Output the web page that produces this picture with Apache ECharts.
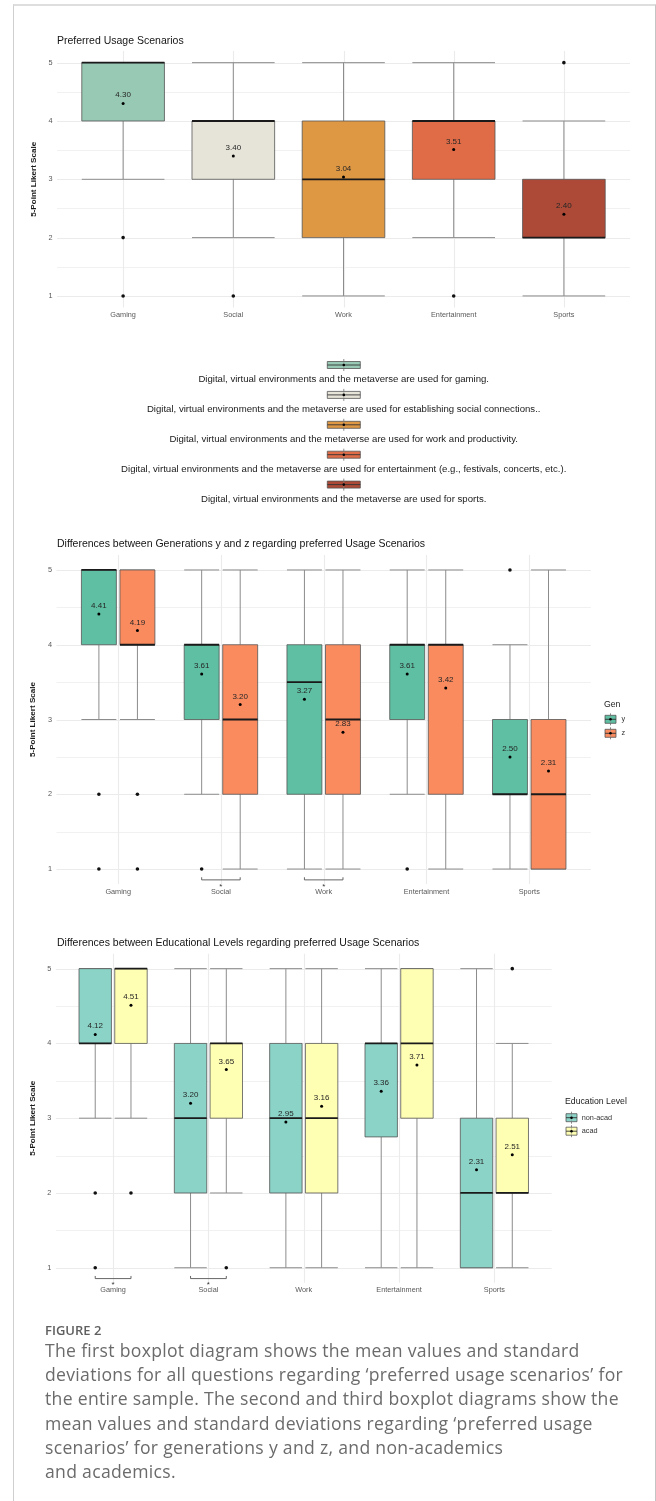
<!DOCTYPE html>
<html>
<head>
<meta charset="utf-8">
<script src="https://cdn.jsdelivr.net/npm/echarts@6/dist/echarts.min.js"></script>
<style>
  html, body { margin: 0; padding: 0; background: #fff; }
  #page { position: relative; width: 656px; height: 1501px; overflow: hidden; }
  #chart { position: absolute; left: 0; top: 0; width: 656px; height: 1310px; }
  #card { position: absolute; left: 13px; top: 4px; width: 641px; height: 1510px;
          border-left: 1px solid #cfcfcf; border-top: 2px solid #dedede; border-right: 1px solid #c4c4c4;
          pointer-events: none; }
  #caption { position: absolute; left: 45px; top: 1322px; font-family: "Open Sans", Lato, sans-serif; color: #6b6b6b; }
  #caption .fig { font-size: 13px; font-weight: 600; color: #5f5f5f; line-height: 16px; }
  #caption .txt { font-size: 17.6px; line-height: 24.2px; white-space: nowrap; letter-spacing: 0.3px; }
</style>
</head>
<body>
<div id="page">
  <div id="chart"></div>
  <div id="card"></div>
  <div id="caption">
    <div class="fig">FIGURE 2</div>
    <div class="txt">The first boxplot diagram shows the mean values and standard<br>deviations for all questions regarding ‘preferred usage scenarios’ for<br>the entire sample. The second and third boxplot diagrams show the<br>mean values and standard deviations regarding ‘preferred usage<br>scenarios’ for generations y and z, and non-academics<br>and academics.</div>
  </div>
</div>
<script>
// ---------- data ----------
const categories = ['Gaming', 'Social', 'Work', 'Entertainment', 'Sports'];
const yTicks = [1, 2, 3, 4, 5];
const yMinorTicks = [1.5, 2.5, 3.5, 4.5];

const chartTitles = [
  'Preferred Usage Scenarios',
  'Differences between Generations y and z regarding preferred Usage Scenarios',
  'Differences between Educational Levels regarding preferred Usage Scenarios'
];
const yAxisTitle = '5-Point Likert Scale';

// each box: [lower whisker, Q1, median, Q3, upper whisker]
const allStats = [[3, 4, 5, 5, 5], [2, 3, 4, 4, 5], [1, 2, 3, 4, 5], [2, 3, 4, 4, 5], [1, 2, 2, 3, 4]];
const allMeans = [4.30, 3.40, 3.04, 3.51, 2.40];
const allOutliers = [[2, 1], [1], [], [1], [5]];
const allColors = ['#97C9B4', '#E6E4D8', '#DE9742', '#E06C47', '#AC4A37'];
const scenarioLabels = [
  'Digital, virtual environments and the metaverse are used for gaming.',
  'Digital, virtual environments and the metaverse are used for establishing social connections..',
  'Digital, virtual environments and the metaverse are used for work and productivity.',
  'Digital, virtual environments and the metaverse are used for entertainment (e.g., festivals, concerts, etc.).',
  'Digital, virtual environments and the metaverse are used for sports.'
];

const genTitle = 'Gen';
const genGroups = ['y', 'z'];
const genYStats = [[3, 4, 5, 5, 5], [2, 3, 4, 4, 5], [1, 2, 3.5, 4, 5], [2, 3, 4, 4, 5], [1, 2, 2, 3, 4]];
const genZStats = [[3, 4, 4, 5, 5], [1, 2, 3, 4, 5], [1, 2, 3, 4, 5], [1, 2, 4, 4, 5], [1, 1, 2, 3, 5]];
const genYMeans = [4.41, 3.61, 3.27, 3.61, 2.50];
const genZMeans = [4.19, 3.20, 2.83, 3.42, 2.31];
const genYOutliers = [[2, 1], [1], [], [1], [5]];
const genZOutliers = [[2, 1], [], [], [], []];
const genSignificant = ['Social', 'Work'];
const genColors = ['#5EBFA2', '#FA8B5F'];

const eduTitle = 'Education Level';
const eduGroups = ['non-acad', 'acad'];
const nonAcadStats = [[3, 4, 4, 5, 5], [1, 2, 3, 4, 5], [1, 2, 3, 4, 5], [1, 2.75, 4, 4, 5], [1, 1, 2, 3, 5]];
const acadStats = [[3, 4, 5, 5, 5], [2, 3, 4, 4, 5], [1, 2, 3, 4, 5], [1, 3, 4, 5, 5], [1, 2, 2, 3, 4]];
const nonAcadMeans = [4.12, 3.20, 2.95, 3.36, 2.31];
const acadMeans = [4.51, 3.65, 3.16, 3.71, 2.51];
const nonAcadOutliers = [[2, 1], [], [], [], []];
const acadOutliers = [[2], [1], [], [], [5]];
const eduSignificant = ['Gaming', 'Social'];
const eduColors = ['#8AD3C6', '#FFFFB3'];

// ---------- styling ----------
const FONT = '"Liberation Sans", Arial, Helvetica, sans-serif';
const GRID_COLOR = '#ebebeb';
const WHISKER = '#8c8c8c';
const BOX_EDGE = '#555555';
const DODGE = 0.1875;

const grids = [
  { left: 57, top: 51, width: 573, height: 256.6 },
  { left: 56.5, top: 555, width: 534.4, height: 329 },
  { left: 55.9, top: 953.7, width: 495.7, height: 329 }
];

function txt(text, x, y, size, color, align, extra) {
  return Object.assign({
    type: 'text', x: x, y: y, silent: true,
    style: Object.assign({
      text: text, fontSize: size, fontFamily: FONT, fill: color,
      align: align || 'left', textAlign: align || 'left',
      verticalAlign: 'middle', textVerticalAlign: 'middle'
    }, extra || {})
  });
}

function gridSeries(gi) {
  return [{
    type: 'custom', xAxisIndex: gi, yAxisIndex: gi, z: 0, silent: true,
    dimensions: ['level'], encode: { y: 0 },
    data: yTicks.concat(yMinorTicks).map(v => [v]),
    renderItem: (params, api) => {
      const cs = params.coordSys;
      const v = api.value(0);
      const y = Math.round(api.coord([1, v])[1]) + 0.5;
      return { type: 'line', shape: { x1: cs.x, y1: y, x2: cs.x + cs.width, y2: y },
               style: { stroke: GRID_COLOR, lineWidth: Number.isInteger(v) ? 1.1 : 0.7 } };
    }
  }, {
    type: 'custom', xAxisIndex: gi, yAxisIndex: gi, z: 0, silent: true,
    dimensions: ['pos'], encode: { x: 0 },
    data: categories.map((c, i) => [i + 1]),
    renderItem: (params, api) => {
      const cs = params.coordSys;
      const x = Math.round(api.coord([api.value(0), 3])[0]) + 0.5;
      return { type: 'line', shape: { x1: x, y1: cs.y, x2: x, y2: cs.y + cs.height },
               style: { stroke: GRID_COLOR, lineWidth: 1.1 } };
    }
  }];
}

function boxSeries(gi, name, stats, colorOf, off, wf) {
  return {
    type: 'custom', name: name, xAxisIndex: gi, yAxisIndex: gi, z: 2, silent: true,
    dimensions: ['pos', 'low', 'q1', 'median', 'q3', 'high'],
    encode: { x: 0, y: [1, 2, 3, 4, 5] },
    data: stats.map((s, i) => [i + 1].concat(s)),
    renderItem: (params, api) => {
      const x = api.value(0);
      const unit = api.size([1, 0])[0];
      const cx = api.coord([x, 3])[0] + off * unit;
      const hw = wf * unit / 2;
      const yy = k => api.coord([x, api.value(k)])[1];
      const yLow = yy(1), yQ1 = yy(2), yMed = yy(3), yQ3 = yy(4), yHigh = yy(5);
      const ws = { stroke: WHISKER, lineWidth: 1 };
      return {
        type: 'group',
        children: [
          { type: 'line', shape: { x1: cx, y1: yQ3, x2: cx, y2: yHigh }, style: ws },
          { type: 'line', shape: { x1: cx, y1: yQ1, x2: cx, y2: yLow }, style: ws },
          { type: 'line', shape: { x1: cx - hw, y1: yHigh, x2: cx + hw, y2: yHigh }, style: ws },
          { type: 'line', shape: { x1: cx - hw, y1: yLow, x2: cx + hw, y2: yLow }, style: ws },
          { type: 'rect', shape: { x: cx - hw, y: yQ3, width: 2 * hw, height: yQ1 - yQ3 },
            style: { fill: colorOf(params.dataIndex), stroke: BOX_EDGE, lineWidth: 0.8 } },
          { type: 'line', shape: { x1: cx - hw, y1: yMed, x2: cx + hw, y2: yMed },
            style: { stroke: '#1a1a1a', lineWidth: 1.8 } }
        ]
      };
    }
  };
}

function outlierSeries(gi, outliers, off) {
  const data = [];
  outliers.forEach((arr, i) => arr.forEach(v => data.push([i + 1, v])));
  return {
    type: 'custom', xAxisIndex: gi, yAxisIndex: gi, z: 3, silent: true,
    dimensions: ['pos', 'value'], encode: { x: 0, y: 1 },
    data: data,
    renderItem: (params, api) => {
      const unit = api.size([1, 0])[0];
      const p = api.coord([api.value(0), api.value(1)]);
      return { type: 'circle', shape: { cx: p[0] + off * unit, cy: p[1], r: 1.8 }, style: { fill: '#111' } };
    }
  };
}

function meanSeries(gi, means, off) {
  return {
    type: 'custom', xAxisIndex: gi, yAxisIndex: gi, z: 4, silent: true,
    dimensions: ['pos', 'mean'], encode: { x: 0, y: 1 },
    data: means.map((m, i) => [i + 1, m]),
    renderItem: (params, api) => {
      const unit = api.size([1, 0])[0];
      const m = api.value(1);
      const p = api.coord([api.value(0), m]);
      const cx = p[0] + off * unit;
      return {
        type: 'group',
        children: [
          { type: 'circle', shape: { cx: cx, cy: p[1], r: 1.5 }, style: { fill: '#000' } },
          { type: 'text', x: cx, y: p[1] - 8.2,
            style: { text: m.toFixed(2), fontSize: 8, fontFamily: FONT, fill: '#262626',
                     align: 'center', textAlign: 'center', verticalAlign: 'middle', textVerticalAlign: 'middle' } }
        ]
      };
    }
  };
}

function bracketSeries(gi, significant) {
  return {
    type: 'custom', xAxisIndex: gi, yAxisIndex: gi, z: 3, silent: true,
    dimensions: ['pos'], encode: { x: 0 },
    data: significant.map(c => [categories.indexOf(c) + 1]),
    renderItem: (params, api) => {
      const x = api.value(0);
      const unit = api.size([1, 0])[0];
      const cx = api.coord([x, 3])[0];
      const xl = cx - DODGE * unit, xr = cx + DODGE * unit;
      const yb = api.coord([x, 0.855])[1];
      const yt = api.coord([x, 0.89])[1];
      return {
        type: 'group',
        children: [
          { type: 'polyline', shape: { points: [[xl, yt], [xl, yb], [xr, yb], [xr, yt]] },
            style: { stroke: '#555', lineWidth: 0.9, fill: null } },
          { type: 'text', x: cx, y: yb + 6.5,
            style: { text: '*', fontSize: 8, fontFamily: FONT, fill: '#333',
                     align: 'center', textAlign: 'center', verticalAlign: 'middle', textVerticalAlign: 'middle' } }
        ]
      };
    }
  };
}

function xAxisFor(gi) {
  return {
    gridIndex: gi, type: 'value', min: 0.4, max: 5.6,
    axisLine: { show: false }, axisTick: { show: false }, splitLine: { show: false },
    axisLabel: {
      customValues: yTicks, margin: 4, fontSize: 7.3, fontFamily: FONT, color: '#595959',
      formatter: v => categories[Math.round(v) - 1] || ''
    }
  };
}
function yAxisFor(gi) {
  return {
    gridIndex: gi, type: 'value', min: 0.8, max: 5.2,
    axisLine: { show: false }, axisTick: { show: false }, splitLine: { show: false },
    axisLabel: { customValues: yTicks, margin: 4.5, fontSize: 7.3, fontFamily: FONT, color: '#595959',
                 formatter: v => String(v) },
    name: yAxisTitle, nameLocation: 'middle', nameGap: 10.5,
    nameTextStyle: { fontSize: 8.1, fontWeight: 'bold', fontFamily: FONT, color: '#1a1a1a' }
  };
}

// ---------- series ----------
const series = [];
for (let g = 0; g < 3; g++) series.push(...gridSeries(g));

series.push(boxSeries(0, 'all', allStats, i => allColors[i], 0, 0.75));
series.push(outlierSeries(0, allOutliers, 0));
series.push(meanSeries(0, allMeans, 0));

series.push(boxSeries(1, genGroups[0], genYStats, () => genColors[0], -DODGE, 0.34));
series.push(boxSeries(1, genGroups[1], genZStats, () => genColors[1], DODGE, 0.34));
series.push(outlierSeries(1, genYOutliers, -DODGE));
series.push(outlierSeries(1, genZOutliers, DODGE));
series.push(meanSeries(1, genYMeans, -DODGE));
series.push(meanSeries(1, genZMeans, DODGE));
series.push(bracketSeries(1, genSignificant));

series.push(boxSeries(2, eduGroups[0], nonAcadStats, () => eduColors[0], -DODGE, 0.34));
series.push(boxSeries(2, eduGroups[1], acadStats, () => eduColors[1], DODGE, 0.34));
series.push(outlierSeries(2, nonAcadOutliers, -DODGE));
series.push(outlierSeries(2, acadOutliers, DODGE));
series.push(meanSeries(2, nonAcadMeans, -DODGE));
series.push(meanSeries(2, acadMeans, DODGE));
series.push(bracketSeries(2, eduSignificant));

// ---------- legends (boxplot key glyphs) ----------
function keyGlyph(x, cy, w, h, color, ext) {
  return [
    { type: 'line', silent: true, shape: { x1: x + w / 2, y1: cy - h / 2 - ext, x2: x + w / 2, y2: cy + h / 2 + ext },
      style: { stroke: WHISKER, lineWidth: 1 } },
    { type: 'rect', silent: true, shape: { x: x, y: cy - h / 2, width: w, height: h },
      style: { fill: color, stroke: BOX_EDGE, lineWidth: 0.8 } },
    { type: 'line', silent: true, shape: { x1: x, y1: cy, x2: x + w, y2: cy },
      style: { stroke: '#333', lineWidth: 0.9 } },
    { type: 'line', silent: true, shape: { x1: x + w / 2, y1: cy - h / 2, x2: x + w / 2, y2: cy + h / 2 },
      style: { stroke: WHISKER, lineWidth: 0.8, opacity: 0.6 } },
    { type: 'circle', silent: true, shape: { cx: x + w / 2, cy: cy, r: 1.3 }, style: { fill: '#000' } }
  ];
}

const graphics = [];
// scenario legend below the first panel
scenarioLabels.forEach((label, i) => {
  const ky = 365 + i * 29.9;
  graphics.push(...keyGlyph(327.3, ky, 33, 7, allColors[i], 2.5));
  graphics.push(txt(label, 343.7, ky + 14.3, 9.6, '#1a1a1a', 'center'));
});
// generation legend
graphics.push(txt(genTitle, 604, 705, 8.7, '#1a1a1a', 'left'));
genGroups.forEach((g, i) => {
  const ky = 719.3 + i * 14;
  graphics.push(...keyGlyph(605, ky, 11, 8, genColors[i], 2));
  graphics.push(txt(g, 621.5, ky, 7.3, '#333', 'left'));
});
// education legend
graphics.push(txt(eduTitle, 565, 1101.7, 8.7, '#1a1a1a', 'left'));
eduGroups.forEach((g, i) => {
  const ky = 1117.7 + i * 13.5;
  graphics.push(...keyGlyph(566, ky, 11, 8, eduColors[i], 2));
  graphics.push(txt(g, 581.7, ky, 7.3, '#333', 'left'));
});

const titleCenters = [41.7, 545.3, 944];

const chart = echarts.init(document.getElementById('chart'), null, { renderer: 'canvas' });
chart.setOption({
  animation: false,
  backgroundColor: 'transparent',
  title: chartTitles.map((t, i) => ({
    text: t, left: 57, top: titleCenters[i] - 6.3, padding: 0,
    textStyle: { fontSize: 10.5, fontWeight: 'normal', fontFamily: FONT, color: '#141414' }
  })),
  grid: grids,
  xAxis: [0, 1, 2].map(xAxisFor),
  yAxis: [0, 1, 2].map(yAxisFor),
  series: series,
  graphic: { elements: graphics }
});
</script>
</body>
</html>
